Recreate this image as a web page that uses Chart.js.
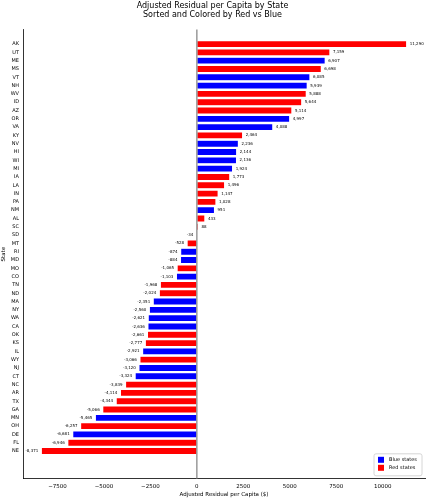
<!DOCTYPE html>
<html><head><meta charset="utf-8">
<script src="https://cdn.jsdelivr.net/npm/chart.js@4"></script>
<style>html,body{margin:0;background:#fff}#wrap{width:429px;height:500px}</style>
</head><body><div id="wrap"><canvas id="c"></canvas></div>
<script>
const states = ["AK","UT","ME","MS","VT","NH","WV","ID","AZ","OR","VA","KY","NV","HI","WI","MI","IA","LA","IN","PA","NM","AL","SC","SD","MT","RI","MD","MO","CO","TN","ND","MA","NY","WA","CA","OK","KS","IL","WY","NJ","CT","NC","AR","TX","GA","MN","OH","DE","FL","NE"];
const residuals = [11290,7159,6907,6698,6085,5939,5888,5644,5114,4997,4088,2464,2236,2144,2136,1924,1773,1496,1147,1028,951,433,88,-34,-528,-874,-884,-1065,-1103,-1968,-2024,-2351,-2560,-2621,-2636,-2661,-2777,-2921,-3066,-3120,-3324,-3839,-4114,-4344,-5066,-5465,-6257,-6681,-6946,-8371];
const parties = ["R","R","B","R","B","B","R","R","R","B","B","R","B","B","B","B","R","R","R","R","B","R","R","R","R","B","B","R","B","R","R","B","B","B","B","R","R","B","R","B","B","R","R","R","R","B","R","B","R","R"];
const xTicks = [-7500,-5000,-2500,0,2500,5000,7500,10000];

const FONT = "DejaVu Sans";
const colorOf = p => p === "B" ? "#0000ff" : "#ff0000";

const extras = {
  id: "extras",
  afterDatasetsDraw(chart) {
    const {ctx, scales: {x, y}, chartArea: a} = chart;
    ctx.save();
    // zero line
    ctx.strokeStyle = "#808080"; ctx.lineWidth = 1.2;
    ctx.beginPath(); ctx.moveTo(x.getPixelForValue(0), a.top); ctx.lineTo(x.getPixelForValue(0), a.bottom); ctx.stroke();
    // value labels
    ctx.fillStyle = "#000"; ctx.font = "4px " + FONT; ctx.textBaseline = "middle";
    residuals.forEach((v, i) => {
      const px = x.getPixelForValue(v), py = y.getPixelForValue(i);
      ctx.textAlign = v >= 0 ? "left" : "right";
      ctx.fillText(v.toLocaleString("en-US"), px + (v >= 0 ? 3 : -3), py);
    });
    // legend
    const lw = 48, lh = 22, lx = a.right - lw - 3, ly = a.bottom - lh - 3;
    ctx.fillStyle = "rgba(255,255,255,0.8)"; ctx.strokeStyle = "#ccc"; ctx.lineWidth = 0.8;
    ctx.beginPath(); ctx.roundRect(lx, ly, lw, lh, 2); ctx.fill(); ctx.stroke();
    ctx.font = "5px " + FONT; ctx.textAlign = "left";
    [["Blue states", "#0000ff"], ["Red states", "#ff0000"]].forEach(([t, c], k) => {
      const yy = ly + 6 + k * 8;
      ctx.fillStyle = c; ctx.fillRect(lx + 4, yy - 3, 6, 6);
      ctx.fillStyle = "#000"; ctx.fillText(t, lx + 15, yy);
    });
    ctx.restore();
  }
};

new Chart("c", {
  type: "bar",
  data: {
    datasets: [{
      data: residuals.map((v, i) => ({x: v, y: i})),
      backgroundColor: parties.map(colorOf),
      borderColor: "#ffffff",
      borderWidth: 0.6,
      borderSkipped: false,
      barPercentage: 0.85,
      categoryPercentage: 1
    }]
  },
  plugins: [extras],
  options: {
    indexAxis: "y",
    responsive: true,
    maintainAspectRatio: false,
    animation: false,
    layout: {padding: {left: 0, right: 4, top: 0, bottom: 0}},
    plugins: {
      legend: {display: false},
      tooltip: {enabled: false},
      title: {
        display: true,
        text: ["Adjusted Residual per Capita by State", "Sorted and Colored by Red vs Blue"],
        color: "#000", font: {family: FONT, size: 8, weight: "normal", lineHeight: 1.1},
        padding: {top: 2, bottom: 10}
      }
    },
    scales: {
      x: {
        type: "linear", min: -9354, max: 12273,
        afterBuildTicks: s => { s.ticks = xTicks.map(v => ({value: v})); },
        grid: {display: false, drawTicks: true, tickLength: 3, tickColor: "#000"},
        border: {color: "#000", width: 0.8},
        ticks: {color: "#000", font: {family: FONT, size: 5.5}, padding: 1, maxRotation: 0,
                callback: v => v < 0 ? "\u2212" + Math.abs(v) : String(v)},
        title: {display: true, text: "Adjusted Residual per Capita ($)", color: "#000",
                font: {family: FONT, size: 5.5}, padding: {top: 1, bottom: 2}}
      },
      y: {
        type: "linear", reverse: true, min: -1.2, max: 51.8,
        afterBuildTicks: s => { s.ticks = states.map((_, i) => ({value: i})); },
        afterFit: s => { s.width = 23; },
        grid: {display: false, drawTicks: true, tickLength: 3, tickColor: "#000"},
        border: {color: "#000", width: 0.8},
        ticks: {color: "#000", font: {family: FONT, size: 5}, padding: 1, autoSkip: false,
                callback: v => states[v] ?? ""},
        title: {display: true, text: "State", color: "#000", font: {family: FONT, size: 5.5}, padding: 0}
      }
    }
  }
});
</script></body></html>
